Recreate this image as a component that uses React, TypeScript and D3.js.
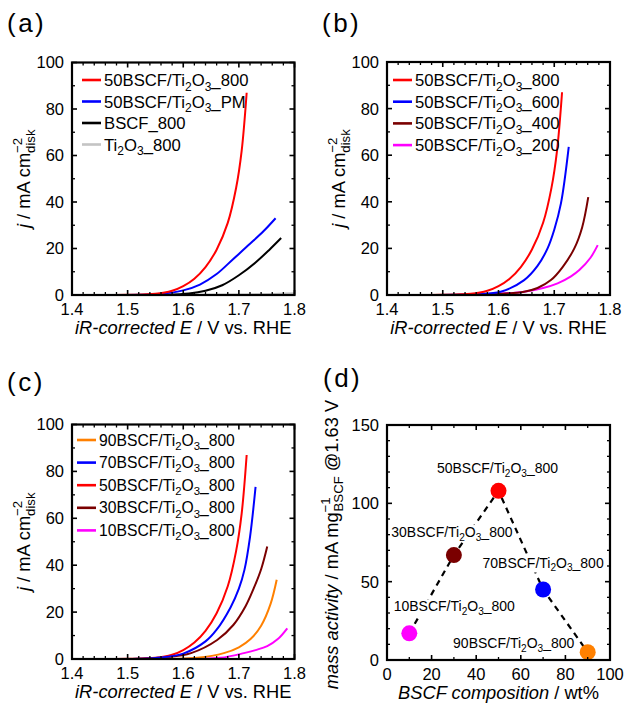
import React from "react";
import * as d3 from "d3";

// ---- data: [E (V vs. RHE), j (mA cm-2)] ----
const red800: [number, number][] = [[1.4, 0], [1.5, 0.1], [1.55, 0.5], [1.58, 1.8], [1.6, 3.8], [1.62, 7], [1.64, 12], [1.66, 19.5], [1.68, 31], [1.695, 46], [1.705, 62], [1.714, 87]];
const bluePM: [number, number][] = [[1.4, 0], [1.52, 0.1], [1.56, 0.5], [1.6, 2], [1.63, 4.5], [1.66, 9], [1.69, 15.5], [1.72, 22], [1.745, 27.6], [1.766, 33]];
const blackBSCF: [number, number][] = [[1.4, 0], [1.57, 0.1], [1.61, 0.6], [1.64, 1.8], [1.67, 4.2], [1.7, 8.5], [1.73, 14], [1.755, 19.5], [1.776, 24.5]];
const grayTi2O3: [number, number][] = [[1.4, 0], [1.7, 0.2], [1.8, 0.8]];

const blue600: [number, number][] = [[1.4, 0], [1.52, 0.1], [1.56, 0.4], [1.604, 1.4], [1.646, 6.4], [1.67, 12.5], [1.688, 20], [1.7, 28], [1.712, 39.3], [1.726, 63.6]];
const brown400: [number, number][] = [[1.4, 0], [1.55, 0.1], [1.6, 0.4], [1.646, 1.4], [1.67, 3], [1.694, 6.4], [1.715, 12], [1.736, 20], [1.75, 29], [1.761, 42]];
const magenta200: [number, number][] = [[1.4, 0], [1.55, 0.1], [1.6, 0.5], [1.646, 1.4], [1.68, 3], [1.706, 5], [1.73, 8], [1.745, 10.7], [1.765, 16], [1.778, 21.4]];

const orange90: [number, number][] = [[1.4, 0], [1.58, 0.1], [1.625, 0.5], [1.673, 2.5], [1.7, 5], [1.721, 8.5], [1.74, 14.2], [1.757, 23.5], [1.768, 33.8]];
const blue70: [number, number][] = [[1.4, 0], [1.52, 0.1], [1.56, 0.6], [1.6, 2.3], [1.64, 7.5], [1.66, 12.5], [1.685, 22], [1.7, 30], [1.71, 38], [1.72, 52], [1.73, 73.4]];
const brown30: [number, number][] = [[1.4, 0], [1.52, 0.1], [1.57, 0.7], [1.614, 2.5], [1.661, 8.1], [1.69, 14.5], [1.712, 22.5], [1.727, 30.3], [1.74, 38.3], [1.751, 48]];
const magenta10: [number, number][] = [[1.4, 0], [1.62, 0.1], [1.667, 0.5], [1.709, 2.5], [1.73, 3.8], [1.751, 5.5], [1.77, 8.5], [1.787, 13.1]];

// panel (d): BSCF wt% vs mass activity
const composition = [10, 30, 50, 70, 90];
const massActivity = [17, 67, 108, 45, 5];
const dNames = ["10", "30", "50", "70", "90"];

const xTicksE = [1.4, 1.5, 1.6, 1.7, 1.8];
const yTicksJ = [0, 20, 40, 60, 80, 100];
const xTicksD = [0, 20, 40, 60, 80, 100];
const yTicksD = [0, 50, 100, 150];

const RED = "#ff0000", BLUE = "#0000ff", BLACK = "#000000", GRAY = "#c4c4c4";
const BROWN = "#7a0000", MAGENTA = "#ff00ff", ORANGE = "#ff8000";
const FONT = "'Liberation Sans', Arial, Helvetica, sans-serif";
const TICK = 16.5, AXIS = 18.3;

type Seg = { t: string; k?: "sub" | "sup"; it?: boolean; dx?: number };

// text with sub/superscripts
const Rich = ({ segs, size }: { segs: Seg[]; size: number }) => {
  let cur = 0;
  return (
    <>
      {segs.map((s, i) => {
        const target = s.k === "sub" ? 0.27 * size : s.k === "sup" ? -0.42 * size : 0;
        const dy = target - cur;
        cur = target;
        return (
          <tspan key={i} dy={dy || undefined} dx={s.dx} fontSize={s.k ? size * 0.72 : size}
            fontStyle={s.it ? "italic" : "normal"}>{s.t}</tspan>
        );
      })}
    </>
  );
};

const ti = (pre: string): Seg[] => [{ t: pre + "BSCF/Ti" }, { t: "2", k: "sub" }, { t: "O" }, { t: "3", k: "sub" }, { t: "_800" }];
const tiT = (pre: string, suf: string): Seg[] => [{ t: pre + "BSCF/Ti" }, { t: "2", k: "sub" }, { t: "O" }, { t: "3", k: "sub" }, { t: suf }];

type Box = { x0: number; x1: number; y0: number; y1: number };

const Frame = ({ box, x, y, xMajor, yMajor, xMinor, yMinor, size }: any) => {
  const { x0, x1, y0, y1 } = box;
  const L = 5, l = 3;
  return (
    <g>
      {xMinor.map((v: number, i: number) => (
        <g key={"xm" + i} stroke="#000" strokeWidth={1.3}>
          <line x1={x(v)} x2={x(v)} y1={y1} y2={y1 - l} />
          <line x1={x(v)} x2={x(v)} y1={y0} y2={y0 + l} />
        </g>
      ))}
      {yMinor.map((v: number, i: number) => (
        <g key={"ym" + i} stroke="#000" strokeWidth={1.3}>
          <line x1={x0} x2={x0 + l} y1={y(v)} y2={y(v)} />
          <line x1={x1} x2={x1 - l} y1={y(v)} y2={y(v)} />
        </g>
      ))}
      {xMajor.map((v: number, i: number) => (
        <g key={"xM" + i}>
          <line stroke="#000" strokeWidth={1.6} x1={x(v)} x2={x(v)} y1={y1} y2={y1 - L} />
          <line stroke="#000" strokeWidth={1.6} x1={x(v)} x2={x(v)} y1={y0} y2={y0 + L} />
          <text x={x(v)} y={y1 + 20} textAnchor="middle" fontSize={size}>{String(v)}</text>
        </g>
      ))}
      {yMajor.map((v: number, i: number) => (
        <g key={"yM" + i}>
          <line stroke="#000" strokeWidth={1.6} x1={x0} x2={x0 + L} y1={y(v)} y2={y(v)} />
          <line stroke="#000" strokeWidth={1.6} x1={x1} x2={x1 - L} y1={y(v)} y2={y(v)} />
          <text x={x0 - 8} y={y(v)} dy="0.36em" textAnchor="end" fontSize={size}>{String(v)}</text>
        </g>
      ))}
      <rect x={x0} y={y0} width={x1 - x0} height={y1 - y0} fill="none" stroke="#000" strokeWidth={2.2} />
    </g>
  );
};

const jLabel: Seg[] = [{ t: "j", it: true }, { t: " / mA cm" }, { t: "−2", k: "sup" }, { t: "disk", k: "sub", dx: -15 }];
const eLabel: Seg[] = [{ t: "iR-corrected E", it: true }, { t: " / V vs. RHE" }];

type Series = { data: [number, number][]; color: string; name: Seg[] };

const LsvPanel = ({ box, series, legendX, legendY, legendStep, legendSize, tag, tagY }: {
  box: Box; series: Series[]; legendX: number; legendY: number; legendStep: number; legendSize: number; tag: string; tagY: number;
}) => {
  const x = d3.scaleLinear().domain([1.4, 1.8]).range([box.x0, box.x1]);
  const y = d3.scaleLinear().domain([0, 100]).range([box.y1, box.y0]);
  const ln = d3.line<[number, number]>().x(d => x(d[0])).y(d => y(d[1])).curve(d3.curveCatmullRom.alpha(0.5));
  const drawOrder = [...series].reverse();
  return (
    <g>
      <text x={box.x0 - 65} y={tagY} fontSize={26} letterSpacing={2.5}>{tag}</text>
      <defs>
        <clipPath id={"clip" + tag}>
          <rect x={box.x0} y={box.y0} width={box.x1 - box.x0} height={box.y1 - box.y0} />
        </clipPath>
      </defs>
      <g clipPath={`url(#clip${tag})`}>
        {drawOrder.map((s, i) => (
          <path key={i} d={ln(s.data) || ""} fill="none" stroke={s.color} strokeWidth={2} />
        ))}
      </g>
      <Frame box={box} x={x} y={y} size={TICK}
        xMajor={xTicksE} yMajor={yTicksJ}
        xMinor={d3.range(1.42, 1.8, 0.02).filter(v => Math.abs(v * 10 - Math.round(v * 10)) > 1e-6)}
        yMinor={d3.range(10, 100, 20)} />
      {series.map((s, i) => (
        <g key={i}>
          <line x1={legendX} x2={legendX + 19} y1={legendY + i * legendStep} y2={legendY + i * legendStep}
            stroke={s.color} strokeWidth={2.6} />
          <text x={legendX + 22} y={legendY + i * legendStep} dy="0.36em" fontSize={legendSize}>
            <Rich segs={s.name} size={legendSize} />
          </text>
        </g>
      ))}
      <text transform={`translate(${box.x0 - 42},${(box.y0 + box.y1) / 2}) rotate(-90)`} textAnchor="middle" fontSize={AXIS}>
        <Rich segs={jLabel} size={AXIS} />
      </text>
      <text x={(box.x0 + box.x1) / 2} y={box.y1 + 39} textAnchor="middle" fontSize={AXIS}>
        <Rich segs={eLabel} size={AXIS} />
      </text>
    </g>
  );
};

const dColors = [MAGENTA, BROWN, RED, BLUE, ORANGE];
const dLabelOffset: [number, number][] = [[45, -22], [-2, -18], [-1, -18], [0, -22], [-74, -4]];
const D_LABEL = 14;

const MassPanel = ({ box }: { box: Box }) => {
  const x = d3.scaleLinear().domain([0, 100]).range([box.x0, box.x1]);
  const y = d3.scaleLinear().domain([0, 150]).range([box.y1, box.y0]);
  const pts = composition.map((c, i) => [c, massActivity[i]] as [number, number]);
  const ln = d3.line<[number, number]>().x(d => x(d[0])).y(d => y(d[1]));
  const yl: Seg[] = [{ t: "mass activity", it: true }, { t: " / mA mg" }, { t: "−1", k: "sup" }, { t: "BSCF", k: "sub", dx: -14 }, { t: " @1.63 V" }];
  const xl: Seg[] = [{ t: "BSCF composition", it: true }, { t: " / wt%" }];
  const halfW = D_LABEL * 8.7 / 2;
  return (
    <g>
      <text x={box.x0 - 64} y={387} fontSize={26} letterSpacing={2.5}>(d)</text>
      <path d={ln(pts) || ""} fill="none" stroke="#000" strokeWidth={2.2} strokeDasharray="6,5" />
      {pts.map((p, i) => (
        <g key={"l" + i}>
          <rect x={x(p[0]) + dLabelOffset[i][0] - halfW} y={y(p[1]) + dLabelOffset[i][1] - 12}
            width={halfW * 2} height={17} fill="#fff" />
          <text x={x(p[0]) + dLabelOffset[i][0]} y={y(p[1]) + dLabelOffset[i][1]} textAnchor="middle" fontSize={D_LABEL}>
            <Rich segs={ti(dNames[i])} size={D_LABEL} />
          </text>
        </g>
      ))}
      {pts.map((p, i) => (
        <circle key={i} cx={x(p[0])} cy={y(p[1])} r={8} fill={dColors[i]} />
      ))}
      <Frame box={box} x={x} y={y} size={TICK}
        xMajor={xTicksD} yMajor={yTicksD}
        xMinor={d3.range(10, 100, 20)} yMinor={d3.range(10, 150, 10).filter(v => v % 50 !== 0)} />
      <text transform={`translate(${box.x0 - 49},${(box.y0 + box.y1) / 2 + 2}) rotate(-90)`} textAnchor="middle" fontSize={AXIS}>
        <Rich segs={yl} size={AXIS} />
      </text>
      <text x={(box.x0 + box.x1) / 2} y={box.y1 + 39} textAnchor="middle" fontSize={AXIS}>
        <Rich segs={xl} size={AXIS} />
      </text>
    </g>
  );
};

export default function App() {
  const boxA = { x0: 72, x1: 294.5, y0: 62.5, y1: 295 };
  const boxB = { x0: 387, x1: 610, y0: 62, y1: 295 };
  const boxC = { x0: 72, x1: 294.5, y0: 424.5, y1: 659 };
  const boxD = { x0: 387, x1: 610, y0: 425, y1: 660 };
  return (
    <svg width={626} height={703} viewBox="0 0 626 703"
      style={{ position: "absolute", left: 0, top: 0, background: "#fff" }} fontFamily={FONT}>
      <LsvPanel box={boxA} tag="(a)" tagY={32} legendX={82} legendY={80} legendStep={21.5} legendSize={16.7}
        series={[
          { data: red800, color: RED, name: ti("50") },
          { data: bluePM, color: BLUE, name: tiT("50", "_PM") },
          { data: blackBSCF, color: BLACK, name: [{ t: "BSCF_800" }] },
          { data: grayTi2O3, color: GRAY, name: [{ t: "Ti" }, { t: "2", k: "sub" }, { t: "O" }, { t: "3", k: "sub" }, { t: "_800" }] },
        ]} />
      <LsvPanel box={boxB} tag="(b)" tagY={32} legendX={393} legendY={80} legendStep={21.7} legendSize={16.7}
        series={[
          { data: red800, color: RED, name: ti("50") },
          { data: blue600, color: BLUE, name: tiT("50", "_600") },
          { data: brown400, color: BROWN, name: tiT("50", "_400") },
          { data: magenta200, color: MAGENTA, name: tiT("50", "_200") },
        ]} />
      <LsvPanel box={boxC} tag="(c)" tagY={391} legendX={77} legendY={440} legendStep={22.6} legendSize={15.7}
        series={[
          { data: orange90, color: ORANGE, name: ti("90") },
          { data: blue70, color: BLUE, name: ti("70") },
          { data: red800, color: RED, name: ti("50") },
          { data: brown30, color: BROWN, name: ti("30") },
          { data: magenta10, color: MAGENTA, name: ti("10") },
        ]} />
      <MassPanel box={boxD} />
    </svg>
  );
}
